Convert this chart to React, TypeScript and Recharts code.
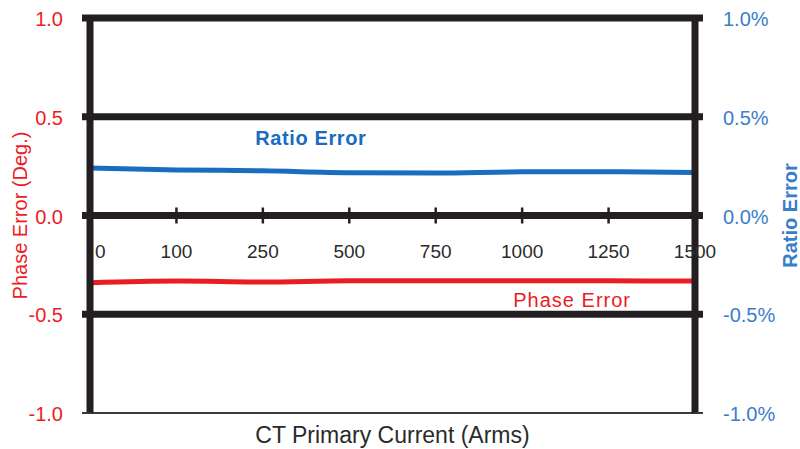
import React from 'react';
import { LineChart, Line, XAxis, YAxis, ReferenceLine, ReferenceDot } from 'recharts';

// ---- data ----
const currents = ['0', '100', '250', '500', '750', '1000', '1250', '1500'];
const phaseError = [-0.34, -0.332, -0.337, -0.331, -0.331, -0.331, -0.331, -0.332];
const ratioError = [0.24, 0.231, 0.226, 0.217, 0.215, 0.221, 0.221, 0.218];
const leftTicks = [-1, -0.5, 0, 0.5, 1];
const rightTicks = [-1, -0.5, 0, 0.5, 1];
const gridValues = [1, 0.5, 0, -0.5];

const data = currents.map((c, i) => ({ current: c, phase: phaseError[i], ratio: ratioError[i] }));

// ---- layout / style ----
const W = 800;
const H = 449;
const TOP = 18;
const X_AXIS_H = 36;
const LEFT_W = 90;
const RIGHT_W = 105;
const LEFT = LEFT_W;
const RIGHT = W - RIGHT_W;
const BOTTOM = H - X_AXIS_H;
const ZERO_Y = (TOP + BOTTOM) / 2;
const INK = '#231f20';
const RED = '#ec1c24';
const BLUE = '#1a6cc0';
const BLUE_TEXT = '#3a7dc9';
const FONT = '"Liberation Sans", Arial, Helvetica, sans-serif';

const XTick = (props: any) => {
  const { x, payload } = props;
  const first = payload.value === currents[0];
  return (
    <g>
      <line x1={x} x2={x} y1={ZERO_Y - 8} y2={ZERO_Y + 8} stroke={INK} strokeWidth={2.5} />
      <text
        x={first ? x + 5 : x}
        y={ZERO_Y + 42}
        textAnchor={first ? 'start' : 'middle'}
        fontSize={19}
        fill="#2b2b2b"
        fontFamily={FONT}
      >
        {payload.value}
      </text>
    </g>
  );
};

const LeftTick = (props: any) => {
  const { x, y, payload } = props;
  const v = payload.value as number;
  const thin = v === -1;
  return (
    <g>
      <line x1={LEFT - 8} x2={LEFT} y1={y} y2={y} stroke={thin ? '#3a3a3a' : INK} strokeWidth={thin ? 2 : 7} />
      <text x={x} y={y} dy="0.4em" textAnchor="end" fontSize={20} fill={RED} fontFamily={FONT}>
        {v.toFixed(1)}
      </text>
    </g>
  );
};

const RightTick = (props: any) => {
  const { x, y, payload } = props;
  const v = payload.value as number;
  const thin = v === -1;
  return (
    <g>
      <line x1={RIGHT} x2={RIGHT + 8} y1={y} y2={y} stroke={thin ? '#3a3a3a' : INK} strokeWidth={thin ? 2 : 7} />
      <text x={x} y={y} dy="0.4em" textAnchor="start" fontSize={20} fill={BLUE_TEXT} fontFamily={FONT}>
        {v.toFixed(1) + '%'}
      </text>
    </g>
  );
};

const makeTextLabel = (text: string, color: string, dx: number, bold: boolean, spacing: number) => (p: any) => {
  const vb = p.viewBox || {};
  const cx = (vb.x ?? 0) + (vb.width ?? 0) / 2 + dx;
  const cy = (vb.y ?? 0) + (vb.height ?? 0) / 2;
  return (
    <text
      x={cx}
      y={cy}
      dy="0.36em"
      textAnchor="middle"
      fontSize={20}
      fontWeight={bold ? 'bold' : 'normal'}
      letterSpacing={spacing}
      fill={color}
      fontFamily={FONT}
    >
      {text}
    </text>
  );
};

export default function App() {
  return (
    <div style={{ position: 'absolute', left: 0, top: 0, width: W, height: H, background: '#fff' }}>
      <LineChart width={W} height={H} data={data} margin={{ top: TOP, right: 0, bottom: 0, left: 0 }}>
        <XAxis
          dataKey="current"
          type="category"
          padding={{ left: 0, right: 0 }}
          height={X_AXIS_H}
          axisLine={false}
          tickLine={false}
          tick={<XTick />}
          interval={0}
          label={{
            value: 'CT Primary Current (Arms)',
            position: 'insideBottom',
            offset: 6,
            style: { fill: '#2a2a2a', fontSize: 23, fontFamily: FONT },
          }}
        />
        <YAxis
          yAxisId="left"
          domain={[-1, 1]}
          ticks={leftTicks}
          width={LEFT_W}
          tickSize={8}
          tickMargin={19}
          tickLine={false}
          axisLine={{ stroke: INK, strokeWidth: 7 }}
          tick={<LeftTick />}
          interval={0}
          label={{
            value: 'Phase Error (Deg.)',
            angle: -90,
            position: 'insideLeft',
            offset: 20,
            style: { textAnchor: 'middle', fill: RED, fontSize: 20, fontFamily: FONT },
          }}
        />
        <YAxis
          yAxisId="right"
          orientation="right"
          domain={[-1, 1]}
          ticks={rightTicks}
          width={RIGHT_W}
          tickSize={8}
          tickMargin={20}
          tickLine={false}
          axisLine={{ stroke: INK, strokeWidth: 7 }}
          tick={<RightTick />}
          interval={0}
          label={{
            value: 'Ratio Error',
            angle: -90,
            position: 'insideRight',
            offset: 10,
            style: { textAnchor: 'middle', fill: BLUE_TEXT, fontSize: 20, fontWeight: 'bold', fontFamily: FONT },
          }}
        />
        {gridValues.map((v) => (
          <ReferenceLine key={v} yAxisId="left" y={v} stroke={INK} strokeWidth={7} />
        ))}
        <ReferenceLine yAxisId="left" y={-1} stroke="#3a3a3a" strokeWidth={2} />
        <Line
          yAxisId="left"
          dataKey="phase"
          type="monotone"
          stroke={RED}
          strokeWidth={5}
          dot={false}
          isAnimationActive={false}
        />
        <Line
          yAxisId="right"
          dataKey="ratio"
          type="monotone"
          stroke={BLUE}
          strokeWidth={5}
          dot={false}
          isAnimationActive={false}
        />
        <ReferenceDot
          yAxisId="left"
          x={currents[2]}
          y={0.393}
          r={1}
          fill="none"
          stroke="none"
          label={makeTextLabel('Ratio Error', BLUE, 48, true, 0.6)}
        />
        <ReferenceDot
          yAxisId="left"
          x={currents[5]}
          y={-0.428}
          r={1}
          fill="none"
          stroke="none"
          label={makeTextLabel('Phase Error', RED, 50, false, 1)}
        />
      </LineChart>
    </div>
  );
}
